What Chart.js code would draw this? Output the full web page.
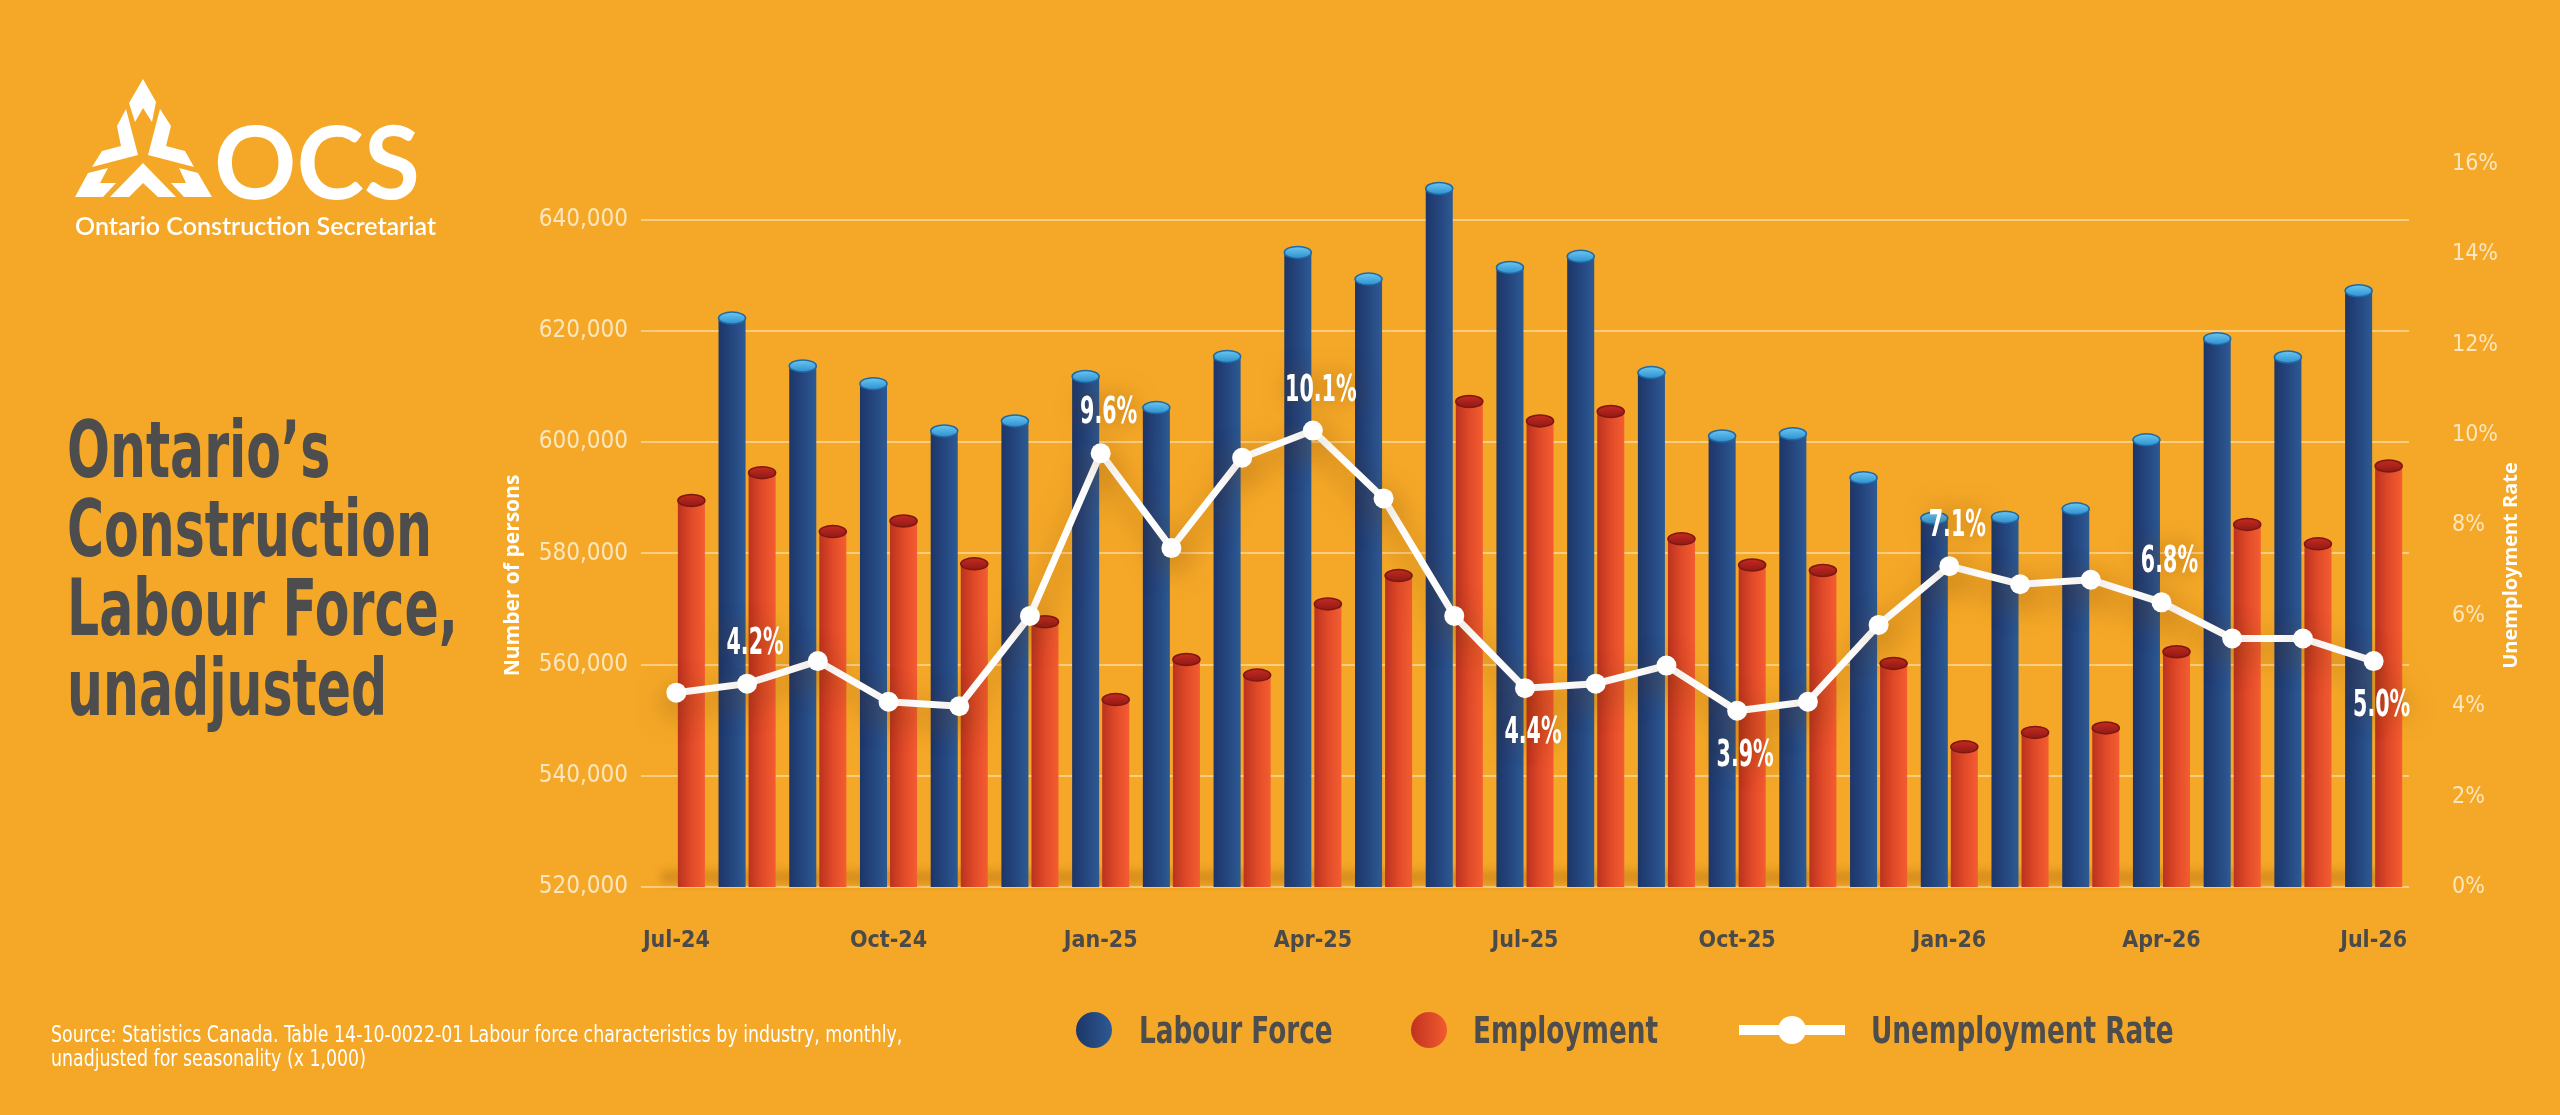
<!DOCTYPE html>
<html>
<head>
<meta charset="utf-8">
<title>Ontario's Construction Labour Force, unadjusted</title>
<script src="https://cdn.jsdelivr.net/npm/chart.js@4"></script>
<style>
  html, body { margin: 0; padding: 0; }
  body { width: 2560px; height: 1115px; overflow: hidden; background: #f5a827; position: relative; }
  #chart { position: absolute; left: 0; top: 0; }
  #overlay { position: absolute; left: 0; top: 0; pointer-events: none; }
  .narrow { font-family: "DejaVu Sans Condensed", "Liberation Sans Narrow", sans-serif; }
  .title { font-weight: bold; font-size: 78px; fill: #4d4d4d; }
  .legend { font-weight: bold; font-size: 38px; fill: #4d4d4d; }
  .source { font-size: 23px; fill: #ffffff; }
  .logo-big { font-family: Lato, "Open Sans", sans-serif; font-weight: bold; font-size: 102px; fill: #ffffff; }
  .logo-small { font-family: Lato, "Open Sans", sans-serif; font-weight: 600; font-size: 25px; fill: #ffffff; }
</style>
</head>
<body>
<canvas id="chart" width="2560" height="1115"></canvas>

<svg id="overlay" width="2560" height="1115" viewBox="0 0 2560 1115">
  <defs>
    <linearGradient id="blueDot" x1="0" x2="1" y1="0" y2="0">
      <stop offset="0" stop-color="#1d3668"/>
      <stop offset="1" stop-color="#2d5a94"/>
    </linearGradient>
    <linearGradient id="orangeDot" x1="0" x2="1" y1="0" y2="0">
      <stop offset="0" stop-color="#c0331f"/>
      <stop offset="1" stop-color="#f25b30"/>
    </linearGradient>
  </defs>

  <!-- logo -->
  <g fill="#ffffff">
    <polygon points="143,79 156,102 152,122 143,108 135,122 129,103"/>
    <polygon points="126,109 138,155 92,167 102,151 121,146 117,126"/>
    <polygon points="160,109 148,155 194,167 185,151 166,146 171,126"/>
    <polygon points="143,163 176,197 158,197 143,183 129,197 110,197"/>
    <polygon points="108,168 100,183 116,183 103,197 75,197 88,173"/>
    <polygon points="179,168 186,183 171,183 184,197 212,197 198,173"/>
  </g>
  <text class="logo-big" x="214" y="199">OCS</text>
  <text class="logo-small" x="75" y="235">Ontario Construction Secretariat</text>

  <!-- title, squeezed to the condensed look of the original -->
  <g transform="translate(67,0) scale(0.72,1)">
    <text class="title narrow" x="0" y="477">Ontario’s</text>
    <text class="title narrow" x="0" y="556">Construction</text>
    <text class="title narrow" x="0" y="635">Labour Force,</text>
    <text class="title narrow" x="0" y="715">unadjusted</text>
  </g>

  <!-- source -->
  <g transform="translate(51,0) scale(0.84,1)">
    <text class="source narrow" x="0" y="1042">Source: Statistics Canada. Table 14-10-0022-01  Labour force characteristics by industry, monthly,</text>
    <text class="source narrow" x="0" y="1066">unadjusted for seasonality (x 1,000)</text>
  </g>

  <!-- legend -->
  <circle cx="1094" cy="1030" r="18" fill="url(#blueDot)"/>
  <text class="legend narrow" transform="translate(1139,1043) scale(0.77,1)">Labour Force</text>
  <circle cx="1429" cy="1030" r="18" fill="url(#orangeDot)"/>
  <text class="legend narrow" transform="translate(1473,1043) scale(0.77,1)">Employment</text>
  <rect x="1739" y="1025" width="106" height="10" fill="#ffffff"/>
  <circle cx="1792" cy="1030" r="14" fill="#ffffff"/>
  <text class="legend narrow" transform="translate(1871,1043) scale(0.77,1)">Unemployment Rate</text>
</svg>

<script>
const NARROW = "'DejaVu Sans Condensed', 'Liberation Sans Narrow', sans-serif";

const months = [
  "Jul-24", "Aug-24", "Sep-24", "Oct-24", "Nov-24", "Dec-24", "Jan-25",
  "Feb-25", "Mar-25", "Apr-25", "May-25", "Jun-25", "Jul-25", "Aug-25",
  "Sep-25", "Oct-25", "Nov-25", "Dec-25", "Jan-26", "Feb-26", "Mar-26",
  "Apr-26", "May-26", "Jun-26", "Jul-26"
];

const labourForce = [
  null, 622300, 613700, 610500, 602000, 603800, 611800, 606200, 615400,
  634100, 629300, 645600, 631400, 633400, 612500, 601100, 601500, 593600,
  586300, 586500, 588000, 600400, 618600, 615300, 627200
];

const employment = [
  589500, 594500, 583900, 585800, 578100, 567700, 553700, 560900, 558100,
  570900, 576000, 607300, 603800, 605500, 582600, 577900, 576900, 560200,
  545200, 547800, 548600, 562300, 585200, 581700, 595700
];

const unemploymentRate = [
  4.3, 4.5, 5.0, 4.1, 4.0, 6.0, 9.6, 7.5, 9.5, 10.1, 8.6, 6.0, 4.4,
  4.5, 4.9, 3.9, 4.1, 5.8, 7.1, 6.7, 6.8, 6.3, 5.5, 5.5, 5.0
];

const personTicks = [520000, 540000, 560000, 580000, 600000, 620000, 640000];
const rateTicks = [0, 2, 4, 6, 8, 10, 12, 14, 16];

// callouts on the rate line, as printed on the original
const calloutAt = [1, 6, 9, 12, 15, 18, 21, 24];
const calloutText = ["4.2%", "9.6%", "10.1%", "4.4%", "3.9%", "7.1%", "6.8%", "5.0%"];
const calloutBelow = [false, false, false, true, true, false, false, true];

const barLook = {
  0: { body: ["#1d3668", "#25467f", "#2d5a94"], cap: ["#6ac8f0", "#2f8fcf"], rim: "#1f6aa6" },
  1: { body: ["#bb321f", "#e04a28", "#f45d31"], cap: ["#c62a20", "#8f1a16"], rim: "#7e1712" }
};

const cylinders = {
  id: "cylinders",
  beforeDatasetsDraw(chart) {
    const { ctx, chartArea } = chart;
    ctx.save();
    ctx.filter = "blur(5px)";
    ctx.fillStyle = "rgba(150, 90, 10, 0.35)";
    ctx.fillRect(chartArea.left + 20, chartArea.bottom - 16, chartArea.width - 40, 12);
    ctx.restore();
  },
  beforeDatasetDraw(chart, args) {
    const look = barLook[args.index];
    if (!look || args.meta.type !== "bar") return;
    const ctx = chart.ctx;
    args.meta.data.forEach(el => {
      const g = ctx.createLinearGradient(el.x - el.width / 2, 0, el.x + el.width / 2, 0);
      g.addColorStop(0, look.body[0]);
      g.addColorStop(0.5, look.body[1]);
      g.addColorStop(1, look.body[2]);
      el.options = Object.assign({}, el.options, { backgroundColor: g });
    });
  },
  afterDatasetDraw(chart, args) {
    const look = barLook[args.index];
    if (!look || args.meta.type !== "bar") return;
    const ctx = chart.ctx;
    const values = chart.data.datasets[args.index].data;
    ctx.save();
    args.meta.data.forEach((el, i) => {
      if (values[i] == null) return;
      const rx = el.width / 2, ry = 6;
      // rounded foot
      ctx.fillStyle = el.options.backgroundColor;
      ctx.beginPath();
      ctx.ellipse(el.x, el.base, rx, ry, 0, 0, Math.PI);
      ctx.fill();
      // top cap
      const g = ctx.createLinearGradient(0, el.y - ry, 0, el.y + ry);
      g.addColorStop(0, look.cap[0]);
      g.addColorStop(1, look.cap[1]);
      ctx.fillStyle = g;
      ctx.strokeStyle = look.rim;
      ctx.lineWidth = 1.5;
      ctx.beginPath();
      ctx.ellipse(el.x, el.y, rx, ry, 0, 0, Math.PI * 2);
      ctx.fill();
      ctx.stroke();
    });
    ctx.restore();
  }
};

const lineShadow = {
  id: "lineShadow",
  beforeDatasetDraw(chart, args) {
    if (args.meta.type !== "line") return;
    const ctx = chart.ctx;
    ctx.save();
    ctx.shadowColor = "rgba(110, 60, 0, 0.5)";
    ctx.shadowBlur = 30;
    ctx.shadowOffsetY = 10;
  },
  afterDatasetDraw(chart, args) {
    if (args.meta.type !== "line") return;
    chart.ctx.restore();
  }
};

const callouts = {
  id: "callouts",
  afterDatasetsDraw(chart) {
    const { ctx } = chart;
    const meta = chart.getDatasetMeta(2);
    ctx.save();
    ctx.font = "bold 37px " + NARROW;
    ctx.fillStyle = "#ffffff";
    ctx.textAlign = "center";
    ctx.textBaseline = "alphabetic";
    ctx.shadowColor = "rgba(120, 70, 0, 0.6)";
    ctx.shadowBlur = 24;
    calloutAt.forEach((idx, k) => {
      const pt = meta.data[idx];
      const y = calloutBelow[k] ? pt.y + 55 : pt.y - 30;
      ctx.save();
      ctx.translate(pt.x + 8, y);
      ctx.scale(0.62, 1);
      ctx.fillText(calloutText[k], 0, 0);
      ctx.restore();
    });
    ctx.restore();
  }
};

const axisTitles = {
  id: "axisTitles",
  afterDraw(chart) {
    const { ctx, chartArea, scales } = chart;
    const midY = (chartArea.top + chartArea.bottom) / 2 + 50;
    ctx.save();
    ctx.font = "bold 21px 'Open Sans', Roboto, sans-serif";
    ctx.fillStyle = "#ffffff";
    ctx.textAlign = "center";
    ctx.textBaseline = "middle";
    ctx.translate(scales.y.left + 23, midY);
    ctx.rotate(-Math.PI / 2);
    ctx.fillText("Number of persons", 0, 0);
    ctx.restore();

    ctx.save();
    ctx.font = "bold 20px 'Open Sans', Roboto, sans-serif";
    ctx.fillStyle = "#ffffff";
    ctx.textAlign = "center";
    ctx.textBaseline = "middle";
    ctx.translate(scales.y1.left + 102, midY - 10);
    ctx.rotate(-Math.PI / 2);
    ctx.fillText("Unemployment Rate", 0, 0);
    ctx.restore();
  }
};

const chart = new Chart(document.getElementById("chart"), {
  data: {
    labels: months,
    datasets: [
      {
        type: "bar",
        label: "Labour Force",
        data: labourForce,
        backgroundColor: "#25467f",
        yAxisID: "y",
        order: 1,
        categoryPercentage: 0.85,
        barPercentage: 0.9
      },
      {
        type: "bar",
        label: "Employment",
        data: employment,
        backgroundColor: "#e04a28",
        yAxisID: "y",
        order: 1,
        categoryPercentage: 0.85,
        barPercentage: 0.9
      },
      {
        type: "line",
        label: "Unemployment Rate",
        data: unemploymentRate,
        yAxisID: "y1",
        order: 0,
        borderColor: "#ffffff",
        borderWidth: 7,
        pointRadius: 10,
        pointBackgroundColor: "#ffffff",
        pointBorderWidth: 0,
        tension: 0
      }
    ]
  },
  options: {
    responsive: false,
    animation: false,
    layout: { padding: { left: 490, right: 21, top: 164, bottom: 148 } },
    plugins: {
      legend: { display: false },
      tooltip: { enabled: false }
    },
    scales: {
      x: {
        grid: { display: false },
        border: { display: false },
        afterFit: s => { s.height = 80; },
        ticks: {
          autoSkip: false,
          maxRotation: 0,
          padding: 32,
          color: "#4a4a4a",
          font: { family: NARROW, weight: "bold", size: 23 },
          callback(value, index) {
            return index % 3 === 0 ? this.getLabelForValue(value) : "";
          }
        }
      },
      y: {
        position: "left",
        min: 520000,
        max: 650000,
        afterFit: s => { s.width = 151; },
        afterBuildTicks: s => { s.ticks = personTicks.map(value => ({ value })); },
        grid: { color: "rgba(255, 236, 200, 0.55)", lineWidth: 2, drawTicks: false },
        border: { display: false },
        ticks: {
          padding: 13,
          color: "#fde6bd",
          font: { family: NARROW, size: 24 },
          callback: v => v.toLocaleString("en-US")
        }
      },
      y1: {
        position: "right",
        min: 0,
        max: 16,
        afterFit: s => { s.width = 130; },
        afterBuildTicks: s => { s.ticks = rateTicks.map(value => ({ value })); },
        grid: { display: false },
        border: { display: false },
        ticks: {
          padding: 35,
          color: "#fde6bd",
          font: { family: NARROW, size: 23 },
          callback: v => v + "%"
        }
      }
    }
  },
  plugins: [cylinders, lineShadow, callouts, axisTitles]
});
</script>
</body>
</html>
